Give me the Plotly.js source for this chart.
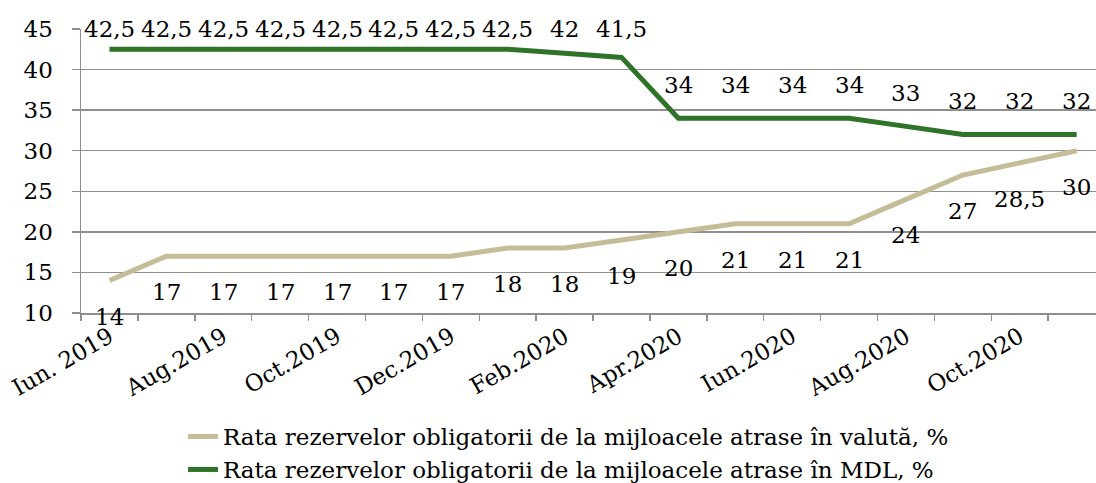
<!DOCTYPE html>
<html>
<head>
<meta charset="utf-8">
<script src="https://cdn.plot.ly/plotly-3.0.1.min.js"></script>
<style>html,body{margin:0;padding:0;overflow:hidden;background:#fff}</style>
</head>
<body>
<div id="chart" style="width:1096px;height:483px"></div>
<script>
// ---- data ----
var months = ['Iun. 2019','Iul.2019','Aug.2019','Sep.2019','Oct.2019','Noi.2019','Dec.2019','Ian.2020','Feb.2020',
              'Mar.2020','Apr.2020','Mai.2020','Iun.2020','Iul.2020','Aug.2020','Sep.2020','Oct.2020','Noi.2020'];
var valuta = [14,17,17,17,17,17,17,18,18,19,20,21,21,21,24,27,28.5,30];
var mdl    = [42.5,42.5,42.5,42.5,42.5,42.5,42.5,42.5,42,41.5,34,34,34,34,33,32,32,32];
var nameValuta = 'Rata rezervelor obligatorii de la mijloacele atrase în valută, %';
var nameMdl    = 'Rata rezervelor obligatorii de la mijloacele atrase în MDL, %';
var tickIdx = [0,2,4,6,8,10,12,14,16];

// ---- layout helpers ----
var FONT = 'DejaVu Serif, serif';
var FS = 23;
var plotTop = 29, plotBottom = 313, yMin = 10, yMax = 45;
var pxPerUnit = (plotBottom - plotTop) / (yMax - yMin);
var idx = months.map(function(_, i){ return i; });
function fmt(v){ return String(v).replace('.', ','); }

var annotations = [];
mdl.forEach(function(v, i){
  var shift = Math.min(33, (yMax - v) * pxPerUnit);
  annotations.push({x: i, y: v, xref: 'x', yref: 'y', text: fmt(v), showarrow: false,
    yshift: shift, font: {family: FONT, size: FS, color: '#000'}});
});
valuta.forEach(function(v, i){
  annotations.push({x: i, y: v, xref: 'x', yref: 'y', text: fmt(v), showarrow: false,
    yshift: -36, font: {family: FONT, size: FS, color: '#000'}});
});

var boundaries = [];
for (var b = 0; b <= months.length; b++) boundaries.push(b - 0.5);

var traces = [
  {x: idx, y: valuta, name: nameValuta, type: 'scatter', mode: 'lines', legend: 'legend',
   line: {color: '#c4bd97', width: 5}},
  {x: idx, y: mdl, name: nameMdl, type: 'scatter', mode: 'lines', legend: 'legend2',
   line: {color: '#2e7328', width: 5}},
  {x: [], y: [], xaxis: 'x2', yaxis: 'y', showlegend: false, hoverinfo: 'skip'}
];

var gridCol = '#8f8f8f';
function leg(top){
  return {xref: 'container', yref: 'container', x: 183/1096, y: 1 - top/483,
    xanchor: 'left', yanchor: 'top', orientation: 'v', bgcolor: 'rgba(0,0,0,0)',
    font: {family: FONT, size: FS, color: '#000'}};
}
var layout = {
  width: 1096, height: 483,
  margin: {l: 81, r: 0, t: plotTop, b: 483 - plotBottom, pad: 0, autoexpand: false},
  paper_bgcolor: '#fff', plot_bgcolor: '#fff',
  font: {family: FONT, size: FS, color: '#000'},
  showlegend: true,
  legend: leg(415),
  legend2: leg(448),
  xaxis: {range: [-0.5, 17.34], tickmode: 'array', automargin: false,
    tickvals: tickIdx, ticktext: tickIdx.map(function(i){ return months[i]; }),
    tickangle: -30, ticks: '', showgrid: false, zeroline: false,
    showline: true, linecolor: gridCol, linewidth: 1.5,
    tickfont: {family: FONT, size: FS, color: '#000'}, fixedrange: true},
  xaxis2: {overlaying: 'x', anchor: 'y', side: 'bottom', range: [-0.5, 17.34], automargin: false,
    tickmode: 'array', tickvals: boundaries, ticks: 'outside', ticklen: 7,
    tickcolor: gridCol, tickwidth: 1.5, showticklabels: false, showgrid: false,
    zeroline: false, showline: false},
  yaxis: {range: [yMin, yMax], dtick: 5, tick0: 10, ticks: 'outside', ticklen: 8, automargin: false,
    tickcolor: gridCol, tickwidth: 1.5, showgrid: true, gridcolor: gridCol, gridwidth: 1.5,
    showline: true, linecolor: gridCol, linewidth: 1.5, zeroline: false,
    ticklabelstandoff: 14,
    tickfont: {family: FONT, size: FS, color: '#000'}, fixedrange: true},
  annotations: annotations
};

Plotly.newPlot('chart', traces, layout, {displayModeBar: false, staticPlot: true});
</script>
</body>
</html>
